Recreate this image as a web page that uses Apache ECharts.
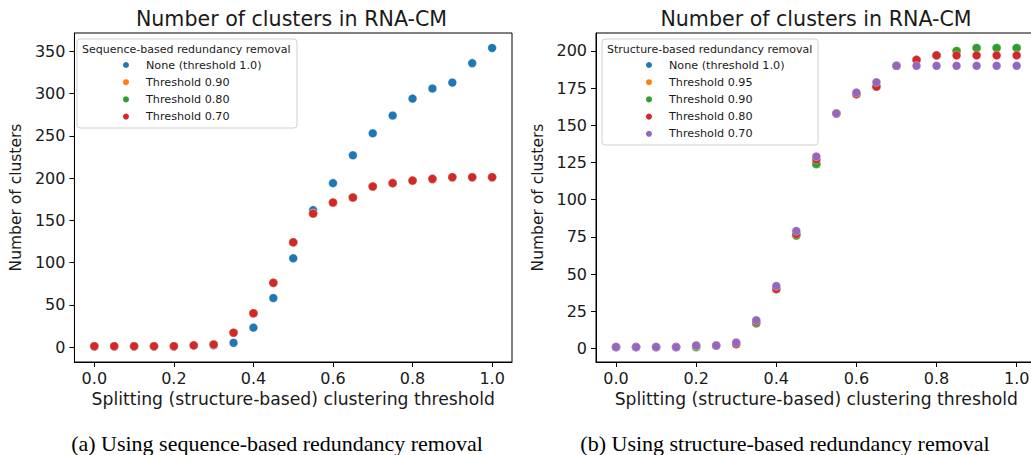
<!DOCTYPE html>
<html>
<head>
<meta charset="utf-8">
<script src="https://cdn.jsdelivr.net/npm/echarts@6/dist/echarts.min.js"></script>
<style>
html,body{margin:0;padding:0;width:1031px;height:455px;overflow:hidden;background:#fff;}
#c1{position:absolute;left:0;top:0;width:520px;height:455px;}
#c2{position:absolute;left:520px;top:0;width:530px;height:455px;}
</style>
</head>
<body>
<div id="c1"></div>
<div id="c2"></div>
<script>
// ---- data ----
const xValues = [0.00,0.05,0.10,0.15,0.20,0.25,0.30,0.35,0.40,0.45,0.50,0.55,0.60,0.65,0.70,0.75,0.80,0.85,0.90,0.95,1.00];
const xTicks = [0.0,0.2,0.4,0.6,0.8,1.0];
const yTicksLeft = [0,50,100,150,200,250,300,350];
const yTicksRight = [0,25,50,75,100,125,150,175,200];

const seqNames = ["None (threshold 1.0)","Threshold 0.90","Threshold 0.80","Threshold 0.70"];
const seqNone = [1,1,1,1,1,2,2,5,23,58,105,162,194,227,253,274,294,306,313,336,354];
const seqT90  = [1,1,1,1,1,2,3,17,40,76,124,158,171,177,190,194,197,199,201,201,201];
const seqT80  = [1,1,1,1,1,2,3,17,40,76,124,158,171,177,190,194,197,199,201,201,201];
const seqT70  = [1,1,1,1,1,2,3,17,40,76,124,158,171,177,190,194,197,199,201,201,201];

const strNames = ["None (threshold 1.0)","Threshold 0.95","Threshold 0.90","Threshold 0.80","Threshold 0.70"];
const strNone = [1,1,1,1,1,2,3,17,40,76,124,158,171,176,190,194,197,200,202,202,202];
const strT95  = [1,1,1,1,1,2,3,17,40,76,124,158,171,176,190,194,197,200,202,202,202];
const strT90  = [1,1,1,1,1,2,3,17,40,76,124,158,171,176,190,194,197,200,202,202,202];
const strT80  = [1,1,1,1,2,2,3,18,40,77,127,158,171,176,190,194,197,197,197,197,197];
const strT70  = [1,1,1,1,2,2,4,19,42,79,129,158,172,179,190,190,190,190,190,190,190];

const colors = ["#1f77b4","#ff7f0e","#2ca02c","#d62728","#9467bd"];
const FONT = "DejaVu Sans";
const TXT = "#1a1a1a";

function pairs(ys){ return xValues.map((x,i)=>[x,ys[i]]); }

function makeOption(cfg){
  const series = cfg.names.map((n,i)=>({
    name:n, type:'scatter', data:pairs(cfg.values[i]), symbolSize:8.6,
    itemStyle:{color:colors[i], borderColor:'#fff', borderWidth:0.3, opacity:1},
    emphasis:{disabled:true}, animation:false
  }));
  return {
    animation:false,
    textStyle:{fontFamily:FONT},
    grid:{left:cfg.gridLeft, top:33, width:cfg.gridWidth, height:329, show:true, borderColor:'#000', borderWidth:1, backgroundColor:'transparent'},
    xAxis:{type:'value', min:-0.05, max:1.05,
      name:'Splitting (structure-based) clustering threshold', nameLocation:'middle', nameGap:26,
      nameTextStyle:{fontSize:17.2, color:TXT, fontFamily:FONT},
      axisLine:{show:true, onZero:false, lineStyle:{color:'#000', width:1}},
      axisTick:{show:true, inside:false, length:5, lineStyle:{color:'#000'}, customValues:xTicks},
      axisLabel:{show:true, margin:8, fontSize:16, color:TXT, fontFamily:FONT, customValues:xTicks, formatter:v=>v.toFixed(1)},
      splitLine:{show:false}},
    yAxis:{type:'value', min:cfg.yMin, max:cfg.yMax,
      name:'Number of clusters', nameLocation:'middle', nameGap:cfg.nameGapY,
      nameTextStyle:{fontSize:15.5, color:TXT, fontFamily:FONT},
      axisLine:{show:true, onZero:false, lineStyle:{color:'#000', width:1}},
      axisTick:{show:true, inside:false, length:5, lineStyle:{color:'#000'}, customValues:cfg.yTicks},
      axisLabel:{show:true, margin:9, fontSize:16, color:TXT, fontFamily:FONT, customValues:cfg.yTicks, formatter:v=>String(Math.round(v))},
      splitLine:{show:false}},
    legend:{show:true, orient:'vertical', left:cfg.legendLeft, top:59, padding:0,
      icon:'circle', itemWidth:8, itemHeight:8, itemGap:5.2, selectedMode:false,
      data:cfg.names,
      textStyle:{fontSize:11.2, color:TXT, fontFamily:FONT, lineHeight:12, padding:[0,0,0,11]}},
    graphic:[
      {type:'rect', z:0, shape:{x:cfg.boxX, y:39, width:cfg.boxW, height:cfg.boxH, r:3}, style:{fill:'rgba(255,255,255,0.8)', stroke:'#d0d0d0', lineWidth:1}},
      {type:'text', z:1, style:{x:cfg.boxX+5, y:49, text:cfg.legendTitle, fontSize:11, fontFamily:FONT, fill:TXT, textVerticalAlign:'middle', textAlign:'left'}},
      {type:'text', z:1, style:{x:cfg.titleX, y:19, text:'Number of clusters in RNA-CM', fontSize:20.6, fontFamily:FONT, fill:TXT, textAlign:'center', textVerticalAlign:'middle'}},
      {type:'text', z:1, style:{x:cfg.capX, y:443, text:cfg.caption, fontSize:22, fontFamily:'Liberation Serif', fill:'#000', textAlign:'center', textVerticalAlign:'middle'}}
    ],
    series:series
  };
}

const c1 = echarts.init(document.getElementById('c1'), null, {renderer:'svg'});
c1.setOption(makeOption({
  names:seqNames, values:[seqNone,seqT90,seqT80,seqT70],
  gridLeft:71, gridWidth:441, yMin:-17.7, yMax:371.7, yTicks:yTicksLeft, nameGapY:47,
  legendLeft:121, boxX:77, boxW:220, boxH:89, legendTitle:'Sequence-based redundancy removal',
  titleX:291.5, capX:277, caption:'(a) Using sequence-based redundancy removal'
}));

const c2 = echarts.init(document.getElementById('c2'), null, {renderer:'svg'});
c2.setOption(makeOption({
  names:strNames, values:[strNone,strT95,strT90,strT80,strT70],
  gridLeft:76, gridWidth:440.7, yMin:-9.05, yMax:212.05, yTicks:yTicksRight, nameGapY:47,
  legendLeft:124, boxX:82, boxW:216, boxH:106, legendTitle:'Structure-based redundancy removal',
  titleX:296, capX:265, caption:'(b) Using structure-based redundancy removal'
}));
</script>
</body>
</html>
